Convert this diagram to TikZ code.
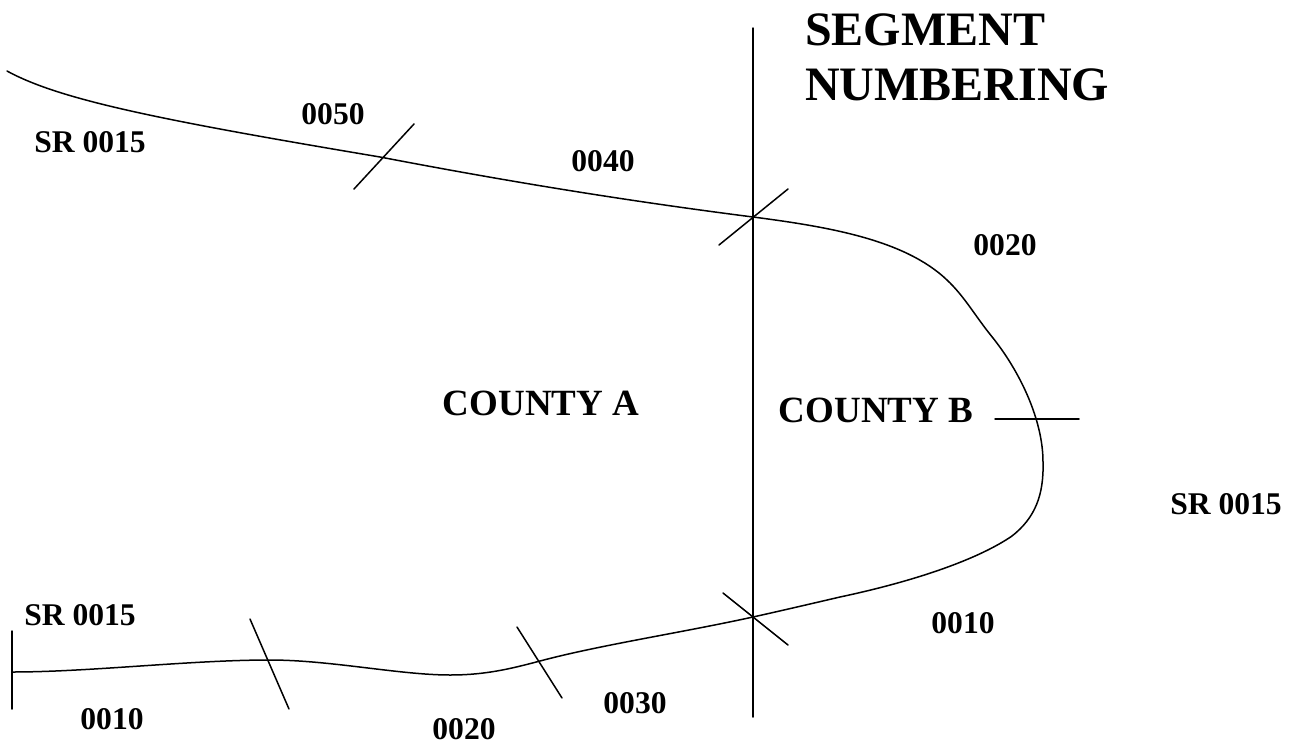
\documentclass[tikz,border=0pt]{standalone}
\usepackage{fontspec}
\setmainfont{Liberation Serif}
\begin{document}
\begin{tikzpicture}[
    x=1pt,y=-1pt,
    line cap=round,
    line join=round,
    road/.style={line width=1.5pt},
    lab/.style={font=\fontsize{31.6}{33}\selectfont\bfseries},
    biglab/.style={font=\fontsize{37}{40}\selectfont\bfseries},
    title/.style={font=\fontsize{48}{55}\selectfont\bfseries,align=left},
  ]
  \useasboundingbox (0,0) rectangle (1304,744);

  % county line
  \draw[road] (753,28) -- (753,717);

  % the route
  \draw[road] (7,71) .. controls (60,100) and (160,120) .. (380,157)
    .. controls (500,180) and (620,200) .. (753,217)
    .. controls (830,227) and (905,240) .. (947,280)
    .. controls (965,297) and (975,316) .. (993,338)
    .. controls (1020,372) and (1043,420) .. (1043,462)
    .. controls (1044,495) and (1035,518) .. (1012,536)
    .. controls (980,558) and (920,580) .. (840,597)
    .. controls (810,604) and (780,611) .. (753,617)
    .. controls (680,633) and (600,645) .. (540,661)
    .. controls (510,669) and (485,675) .. (450,675)
    .. controls (400,675) and (330,660) .. (270,660)
    .. controls (190,660) and (90,672) .. (12,672);

  % segment ticks
  \draw[road] (354,189) -- (414,124);
  \draw[road] (719,245) -- (788,189);
  \draw[road] (995,419) -- (1079,419);
  \draw[road] (723,593) -- (788,645);
  \draw[road] (517,627) -- (562,698);
  \draw[road] (250,619) -- (289,709);
  \draw[road] (12,631) -- (12,709);

  % labels
  \node[title,anchor=north west,inner sep=0pt] (heading) at (805,14) {SEGMENT\\NUMBERING};
  \node[biglab] (countya) at (541,403) {COUNTY A};
  \node[biglab] (countyb) at (876,410) {COUNTY B};
  \node[lab] (srtop) at (90,142) {SR 0015};
  \node[lab] (srright) at (1226,504) {SR 0015};
  \node[lab] (srleft) at (80,615) {SR 0015};
  \node[lab] (toplabel) at (333,114) {0050};
  \node[lab] (seg40) at (603,161) {0040};
  \node[lab] (seg20r) at (1005,245) {0020};
  \node[lab] (seg10r) at (963,623) {0010};
  \node[lab] (seg30) at (635,703) {0030};
  \node[lab] (seg20) at (464,729) {0020};
  \node[lab] (seg10) at (112,719) {0010};
\end{tikzpicture}
\end{document}
